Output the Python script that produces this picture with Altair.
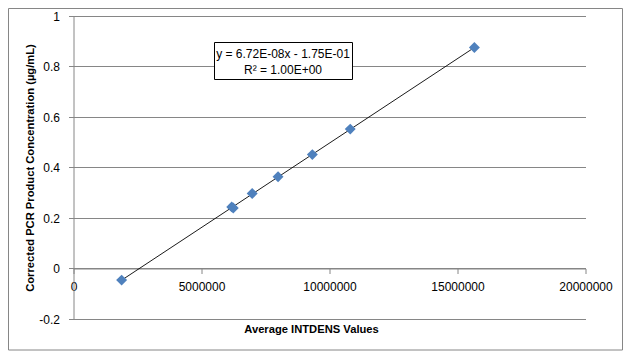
import altair as alt
import pandas as pd

# Data
intdens = [1880000, 6180000, 6240000, 6980000, 7990000, 9330000, 10810000, 15660000]
concentration = [-0.046, 0.244, 0.240, 0.297, 0.363, 0.451, 0.552, 0.875]
x_ticks = [0, 5000000, 10000000, 15000000, 20000000]
y_ticks = [-0.2, 0, 0.2, 0.4, 0.6, 0.8, 1.0]
equation_lines = ["y = 6.72E-08x - 1.75E-01", "R\u00b2 = 1.00E+00"]
x_title = "Average INTDENS Values"
y_title = "Corrected PCR Product Concentration (\u00b5g/mL)"

df = pd.DataFrame({"x": intdens, "y": concentration})
one = pd.DataFrame({"a": [0]})

FONT = "Liberation Sans"
GRID = "#868686"
W, H = 512, 303

xs = alt.Scale(domain=[0, 20000000], nice=False, zero=False)
ys = alt.Scale(domain=[-0.2, 1.0], nice=False, zero=False)

x_axis = alt.Axis(
    values=x_ticks, labelExpr="toString(datum.value)", grid=False,
    offset=-50.5, domainColor=GRID, tickColor=GRID, tickSize=5,
    labelPadding=8, labelFont=FONT, labelFontSize=12, labelColor="#000",
    labelFlush=False, labelOverlap=False,
    title=x_title, titleFont=FONT, titleFontSize=11.2, titleFontWeight="bold",
    titleColor="#000", titleX=237.5, titleY=61, titleAlign="center",
    titleBaseline="middle", titleAnchor="start",
)
y_axis = alt.Axis(
    values=y_ticks, labelExpr="toString(round(datum.value*10)/10)", grid=True,
    gridColor=GRID, domainColor=GRID, tickColor=GRID, tickSize=5,
    labelPadding=9, labelFont=FONT, labelFontSize=12, labelColor="#000",
    labelFlush=False, labelOverlap=False,
    title=y_title, titleFont=FONT, titleFontSize=11.2, titleFontWeight="bold",
    titleColor="#000", titleX=-43.5, titleY=151.5, titleAngle=-90,
    titleAlign="center", titleBaseline="middle", titleAnchor="start",
)

border = alt.Chart(one).mark_rect(filled=False, stroke=GRID, strokeWidth=1).encode(
    x=alt.value(-65), x2=alt.value(549), y=alt.value(-7.5), y2=alt.value(334)
)

trend = alt.Chart(df).transform_regression("x", "y").mark_line(
    color="#000", strokeWidth=0.9
).encode(
    x=alt.X("x:Q", scale=xs, axis=x_axis),
    y=alt.Y("y:Q", scale=ys, axis=y_axis),
)

points = alt.Chart(df).mark_point(
    shape="diamond", filled=True, size=120, color="#4F81BD", opacity=1
).encode(
    x=alt.X("x:Q", scale=xs),
    y=alt.Y("y:Q", scale=ys),
)

box = alt.Chart(one).mark_rect(fill="white", stroke="#000", strokeWidth=1).encode(
    x=alt.value(141), x2=alt.value(279), y=alt.value(26.5), y2=alt.value(63.5)
)
eq1 = alt.Chart(one).mark_text(font=FONT, fontSize=12, color="#000", align="center", baseline="middle").encode(
    x=alt.value(209.5), y=alt.value(37.5), text=alt.value(equation_lines[0])
)
eq2 = alt.Chart(one).mark_text(font=FONT, fontSize=12, color="#000", align="center", baseline="middle").encode(
    x=alt.value(209.5), y=alt.value(54), text=alt.value(equation_lines[1])
)

chart = alt.layer(trend, points, border, box, eq1, eq2).properties(
    width=W, height=H,
    autosize=alt.AutoSizeParams(type="none"),
    padding={"left": 65.5, "top": 8, "right": 37, "bottom": 31.5},
    background="white",
).configure_view(strokeWidth=0)

chart.save("out.html", embed_options={"renderer": "svg", "actions": False})
